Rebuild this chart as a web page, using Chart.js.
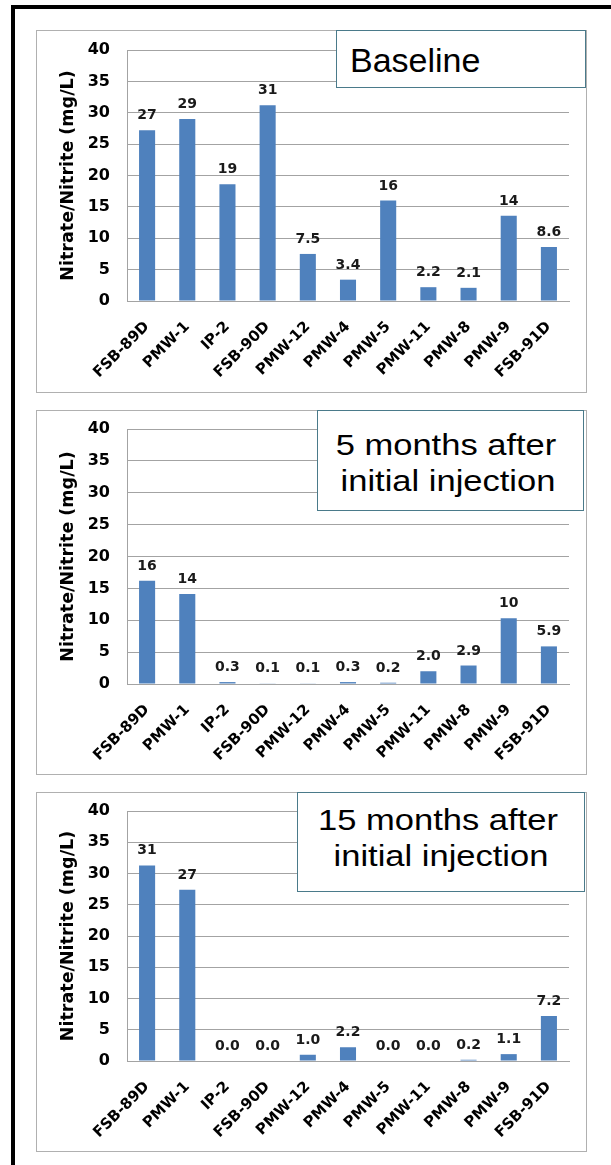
<!DOCTYPE html>
<html>
<head>
<meta charset="utf-8">
<title>Nitrate/Nitrite</title>
<script src="https://cdn.jsdelivr.net/npm/chart.js@4.4.0/dist/chart.umd.min.js"></script>
<style>
body { margin: 0; background: #fff; width: 611px; height: 1165px; overflow: hidden; position: relative; font-family: 'Liberation Sans', Arial, sans-serif; }
.frame { position: absolute; left: 11px; top: 5px; width: 700px; height: 1300px; border: 4px solid #000; box-sizing: border-box; }
.panel { position: absolute; left: 36px; width: 551px; outline: 1px solid #b0b0b0; outline-offset: -1px; background: #fff; }
.panel canvas { position: absolute; left: 0; top: 0; }
.tag { position: absolute; border: 1px solid #4a7a8a; background: #fff; box-sizing: border-box; color: #000; }
.tag .ln { position: absolute; white-space: nowrap; font-size: 29px; line-height: 36px; transform: translateX(-50%) scaleX(1.19); }
</style>
</head>
<body>
<div class="frame"></div>

<div class="panel" style="top:30px;height:363px"><canvas id="chartBaseline" width="551" height="363"></canvas></div>
<div class="panel" style="top:410px;height:365px"><canvas id="chart5m" width="551" height="365"></canvas></div>
<div class="panel" style="top:792px;height:360px"><canvas id="chart15m" width="551" height="360"></canvas></div>

<div class="tag" style="left:336px;top:30px;width:250px;height:58px">
  <div style="position:absolute;left:13px;top:9px;font-size:34px;line-height:40px;white-space:nowrap">Baseline</div>
</div>
<div class="tag" style="left:317px;top:410px;width:267px;height:101px">
  <div class="ln" style="left:128px;top:16px">5 months after</div>
  <div class="ln" style="left:130px;top:52px">initial injection</div>
</div>
<div class="tag" style="left:297px;top:792px;width:288px;height:100px">
  <div class="ln" style="left:140px;top:9px">15 months after</div>
  <div class="ln" style="left:143px;top:45px">initial injection</div>
</div>

<script>
// wells, same order in every panel
const categories = ['FSB-89D', 'PMW-1', 'IP-2', 'FSB-90D', 'PMW-12', 'PMW-4', 'PMW-5', 'PMW-11', 'PMW-8', 'PMW-9', 'FSB-91D'];

// nitrate/nitrite in mg/L
const baselineValues = [27.2, 29.0, 18.6, 31.2, 7.5, 3.4, 16.0, 2.2, 2.1, 13.6, 8.6];
const month5Values = [16.2, 14.1, 0.3, 0.1, 0.1, 0.3, 0.2, 2.0, 2.9, 10.3, 5.9];
const month15Values = [31.3, 27.4, 0.0, 0.0, 1.0, 2.2, 0.0, 0.0, 0.2, 1.1, 7.2];

const yMin = 0;
const yMax = 40;
const yStep = 5;
const axisTitle = 'Nitrate/Nitrite (mg/L)';

const labelFont = 'DejaVu Sans';
const gridColor = '#a3a3a3';

const fmtValue = (v) => (v >= 10 ? v.toFixed(0) : v.toFixed(1));

// value labels above each bar
const barLabels = {
    id: 'barLabels',
    afterDatasetsDraw(chart) {
        const ctx = chart.ctx;
        const meta = chart.getDatasetMeta(0);
        const data = chart.data.datasets[0].data;
        ctx.save();
        ctx.font = 'bold 14px "' + labelFont + '"';
        ctx.fillStyle = '#1a1a1a';
        ctx.textAlign = 'center';
        ctx.textBaseline = 'alphabetic';
        meta.data.forEach((bar, i) => {
            ctx.fillText(fmtValue(data[i]), bar.x, bar.y - 11);
        });
        ctx.restore();
    },
};

const renderPanel = (id, values, padTop, plotHeight) => {
    const canvas = document.getElementById(id);
    const xHeight = canvas.height - padTop - plotHeight;
    new Chart(canvas.getContext('2d'), {
        type: 'bar',
        data: {
            labels: categories,
            datasets: [{
                data: values,
                backgroundColor: '#4f81bd',
                borderWidth: 0,
                barPercentage: 0.4,
                categoryPercentage: 1.0,
            }],
        },
        options: {
            responsive: false,
            animation: false,
            layout: { padding: { top: padTop, right: 18, bottom: 0, left: 18 } },
            plugins: {
                legend: { display: false },
                tooltip: { enabled: false },
            },
            scales: {
                x: {
                    grid: { display: false },
                    border: { display: true, color: gridColor, width: 1 },
                    ticks: {
                        autoSkip: false,
                        minRotation: 45,
                        maxRotation: 45,
                        padding: 9,
                        color: '#000',
                        font: { family: labelFont, size: 15, weight: 'bold' },
                    },
                    afterFit: (scale) => {
                        scale.height = xHeight;
                        scale.paddingLeft = 0;
                        scale.paddingRight = 0;
                    },
                },
                y: {
                    min: yMin,
                    max: yMax,
                    grid: { color: gridColor, lineWidth: 1, drawTicks: false },
                    border: { display: true, color: gridColor, width: 1 },
                    ticks: {
                        stepSize: yStep,
                        padding: 17,
                        color: '#000',
                        font: { family: labelFont, size: 16, weight: 'bold' },
                    },
                    title: {
                        display: true,
                        text: axisTitle,
                        color: '#000',
                        padding: { top: 4, bottom: 4 },
                        font: { family: labelFont, size: 17.5, weight: 'bold' },
                    },
                    afterFit: (scale) => {
                        scale.width = 73;
                        scale.paddingTop = 0;
                        scale.paddingBottom = 0;
                    },
                },
            },
        },
        plugins: [barLabels],
    });
};

window.addEventListener('load', () => {
    renderPanel('chartBaseline', baselineValues, 20, 251);
    renderPanel('chart5m', month5Values, 19, 255);
    renderPanel('chart15m', month15Values, 19, 250);
});
</script>
</body>
</html>
